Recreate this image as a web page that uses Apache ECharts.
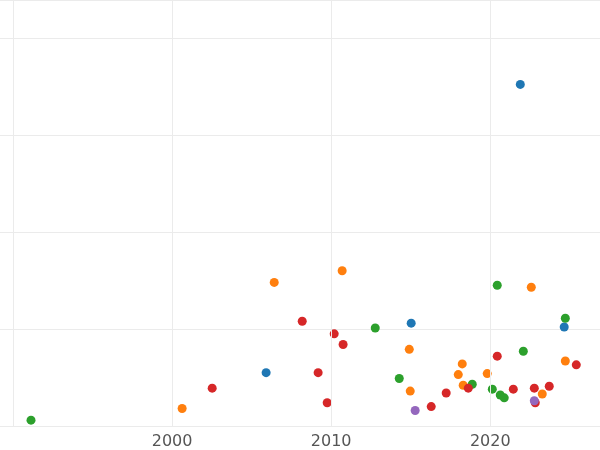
<!DOCTYPE html>
<html><head><meta charset="utf-8">
<script src="https://cdn.jsdelivr.net/npm/echarts@6/dist/echarts.min.js"></script>
<style>html,body{margin:0;padding:0;background:#fff}#c{width:600px;height:450px}</style>
</head><body><div id="c"></div>
<script>
const xTicks = [1990, 2000, 2010, 2020];
const blueX = [2021.89, 2005.91, 2015.03, 2024.65];
const blueY = [3.52, 0.55, 1.06, 1.02];
const orangeX = [2006.42, 2010.69, 2000.63, 2014.91, 2014.97, 2017.99, 2018.24, 2018.30, 2019.81, 2022.58, 2023.27, 2024.72];
const orangeY = [1.48, 1.60, 0.18, 0.79, 0.36, 0.53, 0.64, 0.42, 0.54, 1.43, 0.33, 0.67];
const greenX = [1991.13, 2012.77, 2014.28, 2018.87, 2020.13, 2020.44, 2020.63, 2020.88, 2022.08, 2024.72];
const greenY = [0.06, 1.01, 0.49, 0.43, 0.38, 1.45, 0.32, 0.29, 0.77, 1.11];
const redX = [2002.52, 2008.18, 2010.19, 2010.75, 2009.18, 2009.75, 2016.29, 2017.23, 2018.62, 2020.44, 2021.45, 2022.77, 2022.83, 2023.71, 2025.41];
const redY = [0.39, 1.08, 0.95, 0.84, 0.55, 0.24, 0.20, 0.34, 0.39, 0.72, 0.38, 0.39, 0.24, 0.41, 0.63];
const purpleX = [2015.28, 2022.77];
const purpleY = [0.16, 0.26];

const zip = (xs, ys) => xs.map((x, i) => [x, ys[i]]);
const mk = (name, color, xs, ys, extra) => Object.assign({
  name, type: 'scatter', symbolSize: 9, itemStyle: {color, opacity: 1},
  data: zip(xs, ys)
}, extra || {});

const chart = echarts.init(document.getElementById('c'));
chart.setOption({
  animation: false,
  grid: {left: 0, right: 0, top: 0, bottom: 24, containLabel: false},
  xAxis: {
    type: 'value', min: 1989.18, max: 2026.9,
    axisLine: {show: false}, axisTick: {show: false}, splitLine: {show: false},
    axisLabel: {customValues: xTicks.slice(1), formatter: v => String(Math.round(v)),
      color: '#555', fontSize: 16, margin: 8, fontFamily: 'DejaVu Sans'}
  },
  yAxis: {
    type: 'value', min: 0, max: 4.39, interval: 1,
    axisLine: {show: false}, axisTick: {show: false}, axisLabel: {show: false},
    splitLine: {lineStyle: {color: '#ebebeb', width: 1}}
  },
  series: [
    mk('blue', '#1f77b4', blueX, blueY, {
      markLine: {silent: true, symbol: 'none', label: {show: false},
        lineStyle: {color: '#ebebeb', type: 'solid', width: 1},
        data: xTicks.map(v => ({xAxis: v}))}
    }),
    mk('orange', '#ff7f0e', orangeX, orangeY),
    mk('green', '#2ca02c', greenX, greenY),
    mk('red', '#d62728', redX, redY),
    mk('purple', '#9467bd', purpleX, purpleY)
  ]
});
</script></body></html>
